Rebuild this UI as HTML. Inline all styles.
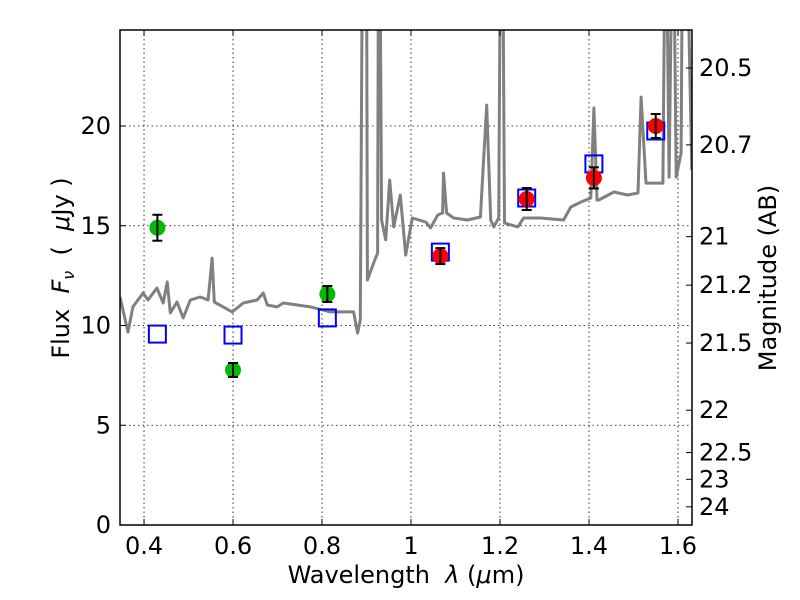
<!DOCTYPE html>
<html><head><meta charset="utf-8"><style>
html,body{margin:0;padding:0;background:#fff;}
svg{display:block;font-family:"DejaVu Sans","Liberation Sans",sans-serif;}
</style></head><body>
<svg id="chart" width="800" height="600"></svg>
<script>
const specLam=[0.346,0.364,0.375,0.398,0.409,0.429,0.443,0.452,0.459,0.474,0.488,0.504,0.526,0.544,0.553,0.558,0.578,0.598,0.623,0.654,0.668,0.677,0.699,0.713,0.774,0.819,0.871,0.880,0.886,0.891,0.893,0.899,0.900,0.902,0.916,0.925,0.927,0.930,0.934,0.943,0.952,0.961,0.976,0.988,1.003,1.033,1.044,1.060,1.071,1.073,1.080,1.096,1.127,1.156,1.170,1.179,1.186,1.197,1.201,1.206,1.210,1.240,1.253,1.291,1.343,1.359,1.382,1.404,1.411,1.418,1.422,1.456,1.487,1.510,1.517,1.528,1.566,1.571,1.574,1.580,1.587,1.590,1.596,1.607,1.610,1.613,1.620,1.631];
const specFlux=[11.43,9.67,10.93,11.63,11.28,11.88,11.13,12.18,10.63,11.18,10.38,11.28,11.43,11.28,13.38,11.18,10.93,10.68,11.13,11.28,11.63,11.03,10.93,11.13,10.93,10.68,10.68,9.62,10.28,30,30,30,30,12.28,13.13,13.63,30,30,15.29,14.29,17.29,14.94,16.54,13.53,15.39,15.19,14.89,15.54,15.64,17.64,15.64,15.39,15.29,15.44,21.05,15.29,14.94,15.39,30,30,15.14,14.94,15.39,15.39,15.29,15.94,16.19,16.39,20.9,16.29,16.29,16.69,16.54,16.64,21.45,17.14,17.14,30,30,17.44,30,30,17.44,18.65,30,30,30,17.8];
const photLam=[0.430,0.600,0.812];
const photFlux=[14.9,7.77,11.58];
const photErr=[0.65,0.35,0.4];
const modelLam=[0.430,0.600,0.812,1.066,1.260,1.411,1.550];
const modelFlux=[9.57,9.52,10.38,13.68,16.39,18.1,19.75];
const nirLam=[1.066,1.260,1.411,1.550];
const nirFlux=[13.48,16.34,17.4,20.0];
const nirErr=[0.4,0.55,0.53,0.6];
const xTicks=[0.4,0.6,0.8,1.0,1.2,1.4,1.6];
const xTickLabels=["0.4","0.6","0.8","1","1.2","1.4","1.6"];
const yTicks=[0,5,10,15,20];
const magLabels=["20.5","20.7","21","21.2","21.5","22","22.5","23","24"];
const magValues=[20.5,20.7,21,21.2,21.5,22,22.5,23,24];

const L=120,R=692,T=30,B=525;
const X0=0.346,X1=0.4+(692-144)/445;
const Y0=0,Y1=(525-30)/19.95;
function xs(v){return L+(v-X0)/(X1-X0)*(R-L);}
function ys(v){return B-(v-Y0)/(Y1-Y0)*(B-T);}
function magToFlux(m){return Math.pow(10,(23.9-m)/2.5);}
const NS="http://www.w3.org/2000/svg";
const svg=document.getElementById('chart');
function mk(tag,attrs,parent){const e=document.createElementNS(NS,tag);for(const k in attrs)e.setAttribute(k,attrs[k]);(parent||svg).appendChild(e);return e;}

const defs=mk('defs',{});
const cp=mk('clipPath',{id:'clip'},defs);
mk('rect',{x:L,y:T,width:R-L,height:B-T},cp);

const grid=mk('g',{stroke:'#000','stroke-width':0.8,'stroke-dasharray':'1.5,3'});


xTicks.forEach(t=>{mk('line',{x1:xs(t),x2:xs(t),y1:T,y2:B},grid);});
yTicks.forEach(t=>{mk('line',{x1:L,x2:R,y1:ys(t),y2:ys(t)},grid);});

const plot=mk('g',{'clip-path':'url(#clip)'});
let d='';
specLam.forEach((l,i)=>{d+=(i?'L':'M')+xs(l).toFixed(1)+','+ys(specFlux[i]).toFixed(1);});
const sp=mk('path',{d:d,fill:'none',stroke:'#808080','stroke-width':3,'stroke-linejoin':'round'},plot);



modelLam.forEach((l,i)=>{
  const r=mk('rect',{x:xs(l)-8.5,y:ys(modelFlux[i])-8.5,width:17,height:17,fill:'none',stroke:'#0000ff','stroke-width':2},plot);
  
  
});
function pts(lams,fl,er,col,name){
  lams.forEach((l,i)=>{
    const g=mk('g',{},plot);
    
    
    const cx=xs(l),cy=ys(fl[i]);
    mk('circle',{cx:cx,cy:cy,r:8,fill:col},g);
    const y1=ys(fl[i]+er[i]),y2=ys(fl[i]-er[i]);
    mk('line',{x1:cx,x2:cx,y1:y1,y2:y2,stroke:'#000','stroke-width':2},g);
    mk('line',{x1:cx-5,x2:cx+5,y1:y1,y2:y1,stroke:'#000','stroke-width':2},g);
    mk('line',{x1:cx-5,x2:cx+5,y1:y2,y2:y2,stroke:'#000','stroke-width':2},g);
  });
}
pts(photLam,photFlux,photErr,'#00bb00','optical-photometry-point');
pts(nirLam,nirFlux,nirErr,'#ff0000','nir-photometry-point');

const frame=mk('rect',{x:L,y:T,width:R-L,height:B-T,fill:'none',stroke:'#000','stroke-width':1.5});



const tk=mk('g',{stroke:'#000','stroke-width':1});
xTicks.forEach(t=>{mk('line',{x1:xs(t),x2:xs(t),y1:B,y2:B-6},tk);mk('line',{x1:xs(t),x2:xs(t),y1:T,y2:T+6},tk);});
yTicks.forEach(t=>{mk('line',{x1:L,x2:L+6,y1:ys(t),y2:ys(t)},tk);});
magValues.forEach(m=>{const y=ys(magToFlux(m));mk('line',{x1:R,x2:R-6,y1:y,y2:y},tk);});

xTicks.forEach((t,i)=>{
  const e=mk('text',{x:xs(t),y:B+29,'text-anchor':'middle','font-size':24});
  e.textContent=xTickLabels[i];
  
  
});
yTicks.forEach(t=>{
  const e=mk('text',{x:L-9,y:ys(t)+8,'text-anchor':'end','font-size':24});
  e.textContent=String(t);
  
  
});
magLabels.forEach((m,i)=>{
  const e=mk('text',{x:R+7,y:ys(magToFlux(magValues[i]))+8,'text-anchor':'start','font-size':24});
  e.textContent=m;
  
  
});
</script>
<svg style="position:absolute;left:0;top:0" width="800" height="600">
<text x="406" y="583" text-anchor="middle" font-size="24" font-family="DejaVu Sans, Liberation Sans, sans-serif">Wavelength&#160; <tspan font-style="italic">λ</tspan> (<tspan font-style="italic">μ</tspan>m)</text>
<text transform="translate(69,268) rotate(-90)" text-anchor="middle" font-size="24" font-family="DejaVu Sans, Liberation Sans, sans-serif">Flux&#160; <tspan font-style="italic">F</tspan><tspan font-style="italic" font-size="16" dy="5">ν</tspan><tspan dy="-5">&#160; (&#160; </tspan><tspan font-style="italic">μ</tspan>Jy )</text>
<text transform="translate(776,278) rotate(-90)" text-anchor="middle" font-size="24" font-family="DejaVu Sans, Liberation Sans, sans-serif">Magnitude (AB)</text>
</svg>
</body></html>
